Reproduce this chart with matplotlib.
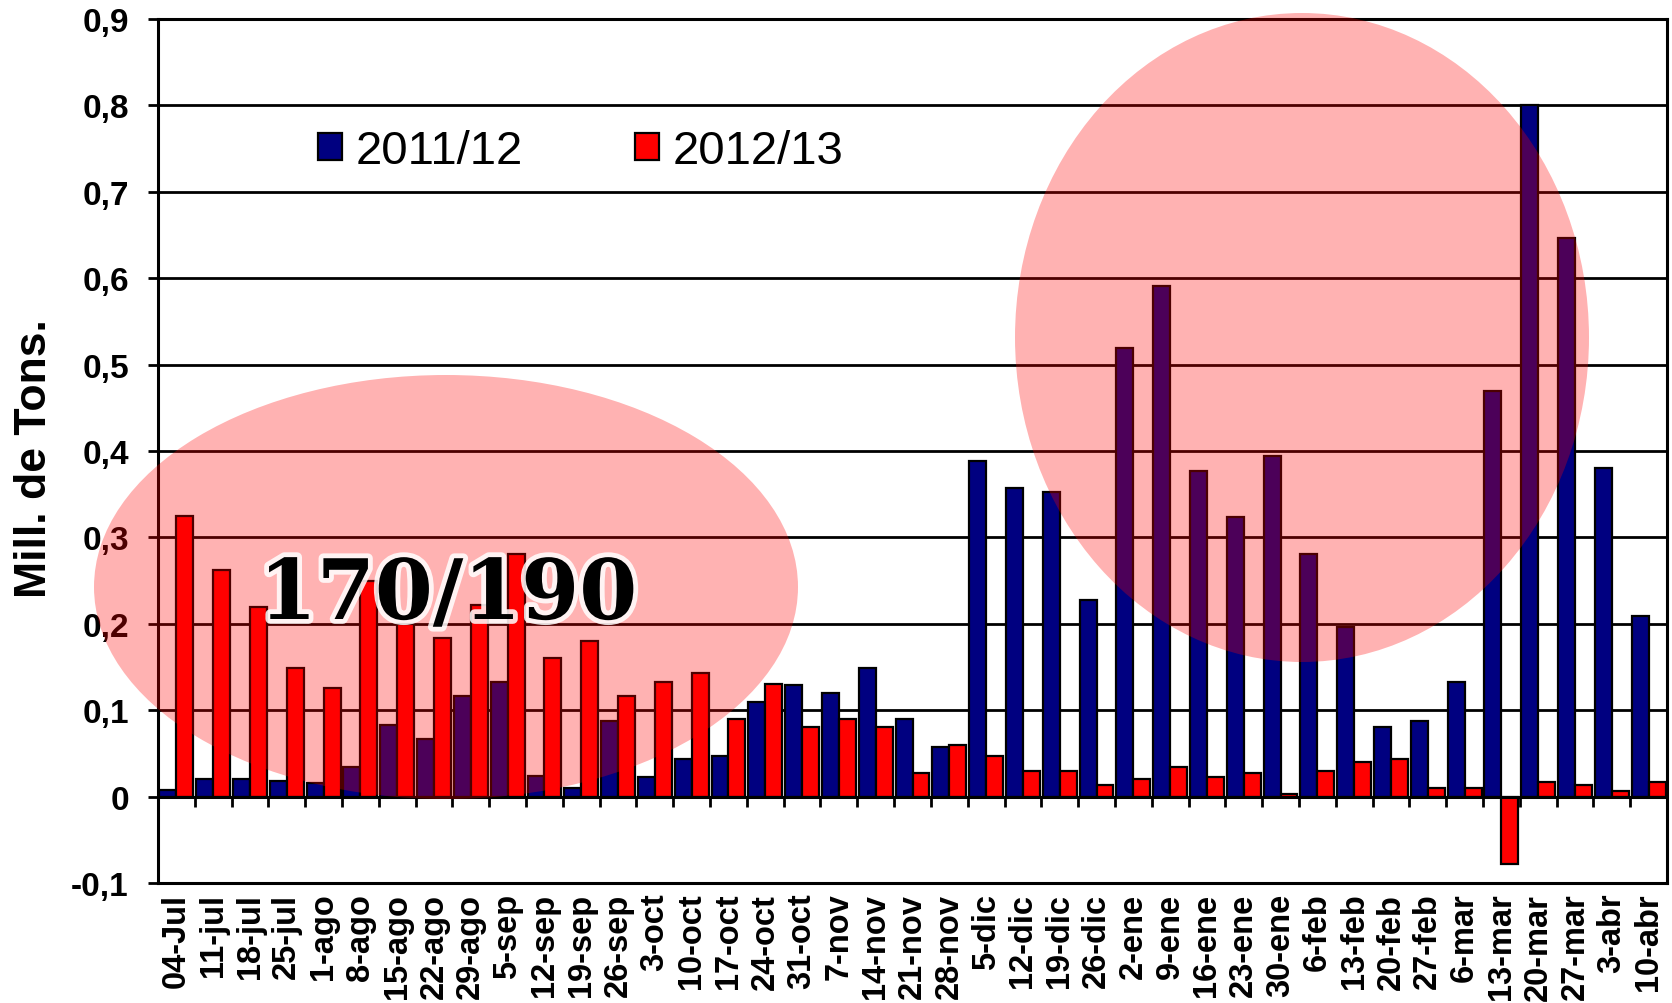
import numpy as np
import matplotlib
matplotlib.use("Agg")
import matplotlib.pyplot as plt
from matplotlib.patches import Ellipse
import matplotlib.patheffects as pe

categories = ["04-Jul", "11-jul", "18-jul", "25-jul", "1-ago", "8-ago", "15-ago", "22-ago",
              "29-ago", "5-sep", "12-sep", "19-sep", "26-sep", "3-oct", "10-oct", "17-oct",
              "24-oct", "31-oct", "7-nov", "14-nov", "21-nov", "28-nov", "5-dic", "12-dic",
              "19-dic", "26-dic", "2-ene", "9-ene", "16-ene", "23-ene", "30-ene", "6-feb",
              "13-feb", "20-feb", "27-feb", "6-mar", "13-mar", "20-mar", "27-mar", "3-abr",
              "10-abr"]

s2011 = [0.008, 0.020, 0.020, 0.018, 0.016, 0.034, 0.083, 0.067, 0.116, 0.133,
         0.024, 0.010, 0.087, 0.023, 0.043, 0.047, 0.110, 0.129, 0.120, 0.149,
         0.090, 0.057, 0.388, 0.357, 0.353, 0.228, 0.519, 0.591, 0.377, 0.324,
         0.394, 0.281, 0.196, 0.080, 0.087, 0.133, 0.469, 0.800, 0.647, 0.380,
         0.209]

s2012 = [0.325, 0.262, 0.219, 0.149, 0.126, 0.249, 0.200, 0.183, 0.222, 0.281,
         0.160, 0.180, 0.116, 0.133, 0.143, 0.090, 0.130, 0.080, 0.090, 0.080,
         0.027, 0.060, 0.047, 0.030, 0.030, 0.013, 0.020, 0.034, 0.023, 0.027,
         0.003, 0.030, 0.040, 0.044, 0.010, 0.010, -0.078, 0.017, 0.013, 0.006,
         0.017]

series_names = ["2011/12", "2012/13"]
ytick_vals = [-0.1, 0, 0.1, 0.2, 0.3, 0.4, 0.5, 0.6, 0.7, 0.8, 0.9]
ytick_labels = ["-0,1", "0", "0,1", "0,2", "0,3", "0,4", "0,5", "0,6", "0,7", "0,8", "0,9"]
ylabel = "Mill. de Tons."
annotation = "170/190"

plt.rcParams['font.family'] = ['Liberation Sans', 'DejaVu Sans']

W, H = 1672, 1004
fig = plt.figure(figsize=(W / 100, H / 100), dpi=100)
ax = fig.add_axes([158 / W, 1 - 884 / H, (1667 - 158) / W, (884 - 20) / H])

x = np.arange(len(categories))
bw = 0.46
ax.bar(x - bw / 2, s2011, width=bw, color="#000080", edgecolor="black", linewidth=1.6,
       label=series_names[0], zorder=3)
ax.bar(x + bw / 2, s2012, width=bw, color="#FF0000", edgecolor="black", linewidth=1.6,
       label=series_names[1], zorder=3)

ax.set_xlim(-0.5, len(categories) - 0.5)
ax.set_ylim(-0.1, 0.9)
ax.set_yticks(ytick_vals)
ax.set_yticklabels(ytick_labels, fontsize=24, fontweight="bold")
ax.set_xticks(x)
ax.set_xticklabels(categories, rotation=90, fontsize=23.5, fontweight="bold")
ax.tick_params(axis="x", length=0, pad=7)
ax.tick_params(axis="y", length=7, width=2, direction="out", pad=14)

ax.set_axisbelow(True)
ax.yaxis.grid(True, color="black", linewidth=2)
for sp in ax.spines.values():
    sp.set_linewidth(2.2)
    sp.set_color("black")

# horizontal axis line at zero with category boundary ticks
ax.axhline(0, color="black", linewidth=2.2, zorder=4)
ax.vlines(np.arange(len(categories) - 1) + 0.5, -0.012, 0, colors="black",
          linewidth=2, zorder=4)

ax.set_ylabel(ylabel, fontsize=32, fontweight="bold")
ax.yaxis.set_label_coords(-0.068, 0.492)

leg = ax.legend(loc="upper left", bbox_to_anchor=(318 / W, 1 - 130 / H),
                bbox_transform=fig.transFigure, ncol=2, frameon=False,
                fontsize=34, handlelength=0.5, handleheight=0.5,
                handletextpad=0.3, columnspacing=2.37, borderaxespad=0, borderpad=0)

# highlight ellipses
e1 = Ellipse((446 / W, 1 - 588 / H), 704 / W, 424 / H, transform=fig.transFigure,
             facecolor="red", alpha=0.3, edgecolor="none", zorder=5)
e2 = Ellipse((1302 / W, 1 - 338.5 / H), 574 / W, 649 / H, transform=fig.transFigure,
             facecolor="red", alpha=0.3, edgecolor="none", zorder=5)
fig.add_artist(e1)
fig.add_artist(e2)

t = fig.text(448 / W, 1 - 597 / H, annotation, ha="center", va="center",
             fontsize=60, fontweight="bold", family="DejaVu Serif", color="black", zorder=6)
t.set_path_effects([pe.withStroke(linewidth=7, foreground="white", alpha=0.85)])

fig.savefig("out.png", dpi=100)
